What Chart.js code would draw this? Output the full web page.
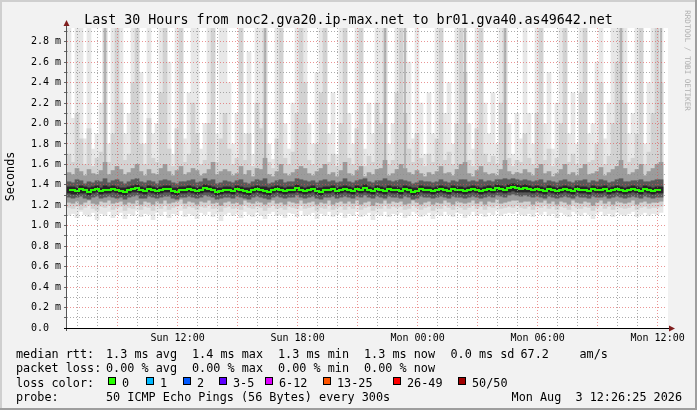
<!DOCTYPE html>
<html>
<head>
<meta charset="utf-8">
<title>Smokeping noc2.gva20 - br01.gva40</title>
<script src="https://cdn.jsdelivr.net/npm/chart.js"></script>
<style>
  html, body { margin: 0; padding: 0; background: #f2f2f2; }
  #wrap { width: 697px; height: 410px; }
</style>
</head>
<body>
<div id="wrap"><canvas id="smoke-chart" width="697" height="410"></canvas></div>
<script>
// time axis, hours since Sun 00:00 (30 hours ending Mon 12:26)
var axisStart = 6.47;
var axisEnd = 36.47;
var firstSlot = 6.57;   // centre of first 12 minute slot
var slotHours = 0.2;

// median rtt per slot (ms)
var rttMedian = [
  1.35,1.35,1.34,1.36,1.35,1.33,1.35,1.36,1.34,1.35,
  1.35,1.36,1.35,1.34,1.33,1.35,1.36,1.37,1.35,1.34,
  1.36,1.35,1.34,1.35,1.36,1.36,1.34,1.33,1.35,1.35,
  1.36,1.35,1.34,1.35,1.37,1.36,1.35,1.33,1.34,1.35,
  1.35,1.34,1.36,1.35,1.34,1.33,1.35,1.36,1.35,1.34,
  1.33,1.35,1.36,1.35,1.34,1.35,1.35,1.37,1.35,1.34,
  1.35,1.36,1.34,1.33,1.35,1.35,1.36,1.34,1.35,1.36,
  1.35,1.34,1.36,1.35,1.37,1.35,1.34,1.36,1.35,1.34,
  1.36,1.35,1.35,1.34,1.36,1.35,1.33,1.34,1.36,1.35,
  1.35,1.34,1.35,1.36,1.35,1.34,1.36,1.35,1.35,1.34,
  1.35,1.36,1.35,1.34,1.35,1.36,1.35,1.37,1.36,1.35,
  1.37,1.38,1.37,1.36,1.37,1.36,1.35,1.36,1.35,1.34,
  1.36,1.35,1.34,1.35,1.36,1.35,1.34,1.36,1.35,1.35,
  1.34,1.36,1.35,1.35,1.36,1.34,1.35,1.36,1.35,1.34,
  1.35,1.36,1.35,1.34,1.36,1.35,1.34,1.35,1.35
];

// smoke, outermost band (min / max of the 50 pings)
var smoke1Lo = [
  1.10,1.12,1.08,1.14,1.11,1.09,1.13,1.06,1.12,1.10,
  1.14,1.08,1.11,1.13,1.07,1.12,1.10,1.15,1.09,1.12,
  1.11,1.06,1.13,1.10,1.14,1.08,1.12,1.11,1.15,1.09,
  1.12,1.10,1.07,1.13,1.11,1.14,1.09,1.12,1.05,1.11,
  1.13,1.10,1.12,1.08,1.14,1.11,1.09,1.13,1.10,1.07,
  1.12,1.14,1.10,1.11,1.08,1.13,1.12,1.09,1.15,1.10,
  1.11,1.13,1.07,1.12,1.10,1.14,1.09,1.11,1.13,1.08,
  1.12,1.10,1.14,1.09,1.11,1.13,1.06,1.12,1.10,1.14,
  1.09,1.12,1.11,1.13,1.08,1.10,1.14,1.12,1.09,1.11,
  1.13,1.07,1.12,1.10,1.14,1.11,1.09,1.13,1.12,1.08,
  1.11,1.14,1.10,1.12,1.09,1.13,1.11,1.15,1.10,1.12,
  1.13,1.12,1.14,1.11,1.10,1.12,1.09,1.13,1.11,1.14,
  1.10,1.12,1.08,1.13,1.11,1.09,1.14,1.12,1.10,1.13,
  1.11,1.07,1.12,1.14,1.10,1.12,1.09,1.13,1.11,1.10,
  1.12,1.14,1.09,1.11,1.13,1.10,1.12,1.11,1.13
];
var smoke1Hi = [
  3.0,2.05,3.0,3.0,1.85,3.0,1.75,1.9,2.2,3.0,
  1.8,3.0,3.0,3.0,1.9,2.1,3.0,3.0,2.5,1.8,
  3.0,1.9,2.0,3.0,3.0,2.6,1.7,3.0,3.0,1.85,
  2.3,3.0,3.0,1.75,2.0,3.0,3.0,1.9,3.0,3.0,
  2.4,1.8,2.1,3.0,1.9,2.7,1.7,3.0,3.0,3.0,
  1.8,1.65,3.0,3.0,2.0,1.75,2.2,3.0,3.0,3.0,
  2.0,1.8,2.5,3.0,3.0,1.9,2.3,1.7,3.0,3.0,
  2.1,1.8,3.0,3.0,1.75,2.2,1.9,3.0,3.0,3.0,
  1.8,2.0,3.0,3.0,3.0,2.6,1.85,3.0,2.2,1.7,
  2.3,1.9,3.0,3.0,2.1,2.4,1.8,3.0,3.0,3.0,
  2.0,1.75,3.0,3.0,2.2,1.9,2.3,1.8,3.0,3.0,
  2.0,1.7,2.1,1.85,3.0,2.1,1.8,3.0,3.0,2.0,
  2.5,1.75,2.2,3.0,3.0,1.9,2.3,1.8,3.0,3.0,
  1.9,2.0,2.6,3.0,1.85,2.2,3.0,3.0,3.0,3.0,
  1.9,2.1,3.0,3.0,1.8,2.4,3.0,3.0,3.0
];

// second band
var smoke2Lo = [
  1.18,1.17,1.19,1.16,1.18,1.20,1.17,1.15,1.19,1.18,
  1.20,1.16,1.18,1.19,1.15,1.18,1.17,1.20,1.16,1.19,
  1.18,1.15,1.19,1.17,1.20,1.16,1.18,1.19,1.21,1.17,
  1.19,1.18,1.16,1.19,1.18,1.20,1.17,1.18,1.14,1.18,
  1.19,1.17,1.18,1.16,1.20,1.18,1.17,1.19,1.18,1.15,
  1.18,1.20,1.17,1.18,1.16,1.19,1.18,1.17,1.20,1.17,
  1.18,1.19,1.15,1.18,1.17,1.20,1.16,1.18,1.19,1.16,
  1.19,1.17,1.20,1.16,1.18,1.19,1.15,1.18,1.17,1.20,
  1.17,1.19,1.18,1.19,1.16,1.17,1.20,1.18,1.16,1.18,
  1.19,1.15,1.18,1.17,1.20,1.18,1.16,1.19,1.18,1.16,
  1.18,1.20,1.17,1.19,1.16,1.19,1.18,1.21,1.17,1.18,
  1.19,1.18,1.20,1.18,1.17,1.19,1.16,1.19,1.18,1.20,
  1.17,1.19,1.16,1.19,1.18,1.16,1.20,1.18,1.17,1.19,
  1.18,1.15,1.18,1.20,1.17,1.19,1.16,1.19,1.18,1.17,
  1.18,1.20,1.16,1.18,1.19,1.17,1.18,1.18,1.19
];
var smoke2Hi = [
  1.70,1.62,2.10,1.85,1.60,1.95,1.58,1.66,1.72,3.00,
  1.62,1.90,3.00,2.20,1.64,1.70,2.40,3.00,1.80,1.60,
  2.05,1.66,1.62,2.30,3.00,1.75,1.58,1.95,3.00,1.62,
  1.70,2.20,1.90,1.60,1.64,2.00,3.00,1.62,1.85,2.10,
  1.75,1.60,1.66,3.00,1.64,1.90,1.58,2.20,1.95,3.00,
  1.62,1.56,1.85,3.00,1.66,1.60,1.72,2.10,3.00,2.40,
  1.64,1.60,1.80,2.30,3.00,1.62,1.70,1.58,2.00,3.00,
  1.66,1.60,1.95,3.00,1.58,1.68,1.62,2.20,2.00,3.00,
  1.60,1.64,2.30,3.00,2.10,1.75,1.62,1.90,1.66,1.58,
  1.70,1.62,1.85,3.00,1.64,1.72,1.60,2.00,3.00,2.50,
  1.64,1.58,1.95,3.00,1.70,1.62,1.68,1.60,2.20,3.00,
  1.66,1.58,1.64,1.62,1.90,1.66,1.60,2.10,3.00,1.64,
  1.75,1.58,1.66,2.00,3.00,1.62,1.70,1.60,2.30,3.00,
  1.62,1.64,1.80,2.40,1.60,1.68,2.00,2.60,3.00,2.20,
  1.62,1.66,1.90,3.00,1.60,1.72,2.10,3.00,2.40
];

// third band
var smoke3Lo = [
  1.23,1.22,1.24,1.21,1.23,1.25,1.22,1.21,1.24,1.23,
  1.25,1.22,1.23,1.24,1.21,1.23,1.22,1.25,1.21,1.24,
  1.23,1.21,1.24,1.22,1.25,1.22,1.23,1.24,1.26,1.22,
  1.24,1.23,1.21,1.24,1.23,1.25,1.22,1.23,1.20,1.23,
  1.24,1.22,1.23,1.21,1.25,1.23,1.22,1.24,1.23,1.21,
  1.23,1.25,1.22,1.23,1.21,1.24,1.23,1.22,1.25,1.22,
  1.23,1.24,1.21,1.23,1.22,1.25,1.21,1.23,1.24,1.22,
  1.24,1.22,1.25,1.21,1.23,1.24,1.20,1.23,1.22,1.25,
  1.22,1.24,1.23,1.24,1.21,1.22,1.25,1.23,1.21,1.23,
  1.24,1.21,1.23,1.22,1.25,1.23,1.21,1.24,1.23,1.22,
  1.23,1.25,1.22,1.24,1.21,1.24,1.23,1.26,1.22,1.23,
  1.24,1.25,1.25,1.23,1.24,1.24,1.21,1.24,1.23,1.25,
  1.22,1.24,1.21,1.24,1.23,1.21,1.25,1.23,1.22,1.24,
  1.23,1.20,1.23,1.25,1.22,1.24,1.21,1.24,1.23,1.22,
  1.23,1.25,1.21,1.23,1.24,1.22,1.23,1.23,1.24
];
var smoke3Hi = [
  1.52,1.50,1.56,1.53,1.49,1.55,1.51,1.50,1.54,1.62,
  1.50,1.54,1.58,1.55,1.50,1.52,1.56,1.60,1.53,1.49,
  1.55,1.51,1.50,1.56,1.60,1.53,1.49,1.54,1.58,1.50,
  1.52,1.56,1.54,1.49,1.51,1.55,1.62,1.50,1.53,1.55,
  1.53,1.49,1.51,1.58,1.50,1.54,1.48,1.56,1.55,1.66,
  1.50,1.48,1.53,1.60,1.51,1.49,1.52,1.55,1.58,1.56,
  1.51,1.49,1.53,1.56,1.60,1.50,1.52,1.48,1.54,1.62,
  1.51,1.49,1.54,1.58,1.48,1.52,1.50,1.55,1.56,1.64,
  1.49,1.51,1.55,1.60,1.56,1.52,1.50,1.54,1.51,1.48,
  1.52,1.50,1.53,1.58,1.51,1.52,1.49,1.55,1.60,1.62,
  1.51,1.48,1.54,1.58,1.52,1.50,1.51,1.49,1.55,1.64,
  1.53,1.50,1.52,1.51,1.55,1.52,1.49,1.56,1.60,1.51,
  1.53,1.48,1.51,1.55,1.60,1.50,1.52,1.49,1.56,1.60,
  1.50,1.51,1.53,1.57,1.49,1.52,1.55,1.58,1.64,1.56,
  1.50,1.52,1.55,1.60,1.49,1.53,1.56,1.60,1.62
];

// fourth band
var smoke4Lo = [
  1.28,1.27,1.28,1.29,1.27,1.26,1.28,1.29,1.27,1.28,
  1.29,1.28,1.27,1.28,1.26,1.28,1.29,1.30,1.27,1.27,
  1.29,1.28,1.27,1.28,1.29,1.29,1.27,1.26,1.28,1.28,
  1.29,1.28,1.27,1.28,1.30,1.29,1.28,1.26,1.27,1.28,
  1.28,1.27,1.29,1.28,1.27,1.26,1.28,1.29,1.28,1.27,
  1.26,1.28,1.29,1.28,1.27,1.28,1.28,1.30,1.28,1.27,
  1.28,1.29,1.27,1.26,1.28,1.28,1.29,1.27,1.28,1.29,
  1.28,1.27,1.29,1.28,1.30,1.28,1.27,1.29,1.28,1.27,
  1.29,1.28,1.28,1.27,1.29,1.28,1.26,1.27,1.29,1.28,
  1.28,1.27,1.28,1.29,1.28,1.27,1.29,1.28,1.28,1.27,
  1.28,1.29,1.28,1.27,1.28,1.29,1.28,1.30,1.29,1.28,
  1.30,1.31,1.30,1.29,1.30,1.29,1.28,1.29,1.28,1.27,
  1.29,1.28,1.27,1.28,1.29,1.28,1.27,1.29,1.28,1.28,
  1.27,1.29,1.28,1.28,1.29,1.27,1.28,1.29,1.28,1.27,
  1.28,1.29,1.28,1.27,1.29,1.28,1.27,1.28,1.28
];
var smoke4Hi = [
  1.43,1.42,1.45,1.44,1.41,1.43,1.42,1.44,1.43,1.46,
  1.42,1.44,1.45,1.43,1.41,1.43,1.45,1.46,1.43,1.42,
  1.44,1.43,1.41,1.44,1.45,1.44,1.42,1.41,1.43,1.43,
  1.44,1.45,1.42,1.43,1.46,1.44,1.45,1.41,1.42,1.44,
  1.43,1.42,1.44,1.45,1.42,1.41,1.43,1.45,1.44,1.46,
  1.41,1.42,1.44,1.45,1.42,1.43,1.43,1.46,1.45,1.44,
  1.43,1.44,1.42,1.44,1.45,1.43,1.44,1.42,1.43,1.46,
  1.43,1.42,1.44,1.45,1.46,1.43,1.42,1.44,1.44,1.46,
  1.44,1.43,1.44,1.45,1.44,1.43,1.41,1.42,1.44,1.43,
  1.43,1.42,1.43,1.45,1.43,1.42,1.44,1.43,1.45,1.45,
  1.43,1.44,1.43,1.45,1.43,1.44,1.43,1.45,1.45,1.46,
  1.45,1.46,1.45,1.44,1.45,1.44,1.43,1.44,1.45,1.42,
  1.44,1.43,1.42,1.44,1.45,1.43,1.42,1.44,1.44,1.45,
  1.42,1.44,1.43,1.45,1.44,1.42,1.43,1.45,1.46,1.43,
  1.43,1.44,1.44,1.45,1.43,1.43,1.44,1.45,1.45
];

// innermost band
var smoke5Lo = [
  1.32,1.31,1.31,1.32,1.32,1.30,1.32,1.33,1.31,1.32,
  1.32,1.33,1.32,1.31,1.30,1.32,1.33,1.33,1.32,1.31,
  1.33,1.32,1.31,1.32,1.33,1.33,1.31,1.30,1.32,1.32,
  1.33,1.32,1.31,1.32,1.33,1.33,1.32,1.30,1.31,1.32,
  1.32,1.31,1.33,1.32,1.31,1.30,1.32,1.33,1.32,1.31,
  1.30,1.32,1.33,1.32,1.31,1.32,1.32,1.33,1.32,1.31,
  1.32,1.33,1.31,1.30,1.32,1.32,1.33,1.31,1.32,1.33,
  1.32,1.31,1.33,1.32,1.33,1.32,1.31,1.33,1.32,1.31,
  1.33,1.32,1.32,1.31,1.33,1.32,1.30,1.31,1.33,1.32,
  1.32,1.31,1.32,1.33,1.32,1.31,1.33,1.32,1.32,1.31,
  1.32,1.33,1.32,1.31,1.32,1.33,1.32,1.33,1.33,1.32,
  1.33,1.34,1.33,1.33,1.33,1.33,1.32,1.33,1.32,1.31,
  1.33,1.32,1.31,1.32,1.33,1.32,1.31,1.33,1.32,1.32,
  1.31,1.33,1.32,1.32,1.33,1.31,1.32,1.33,1.32,1.31,
  1.32,1.33,1.32,1.31,1.33,1.32,1.31,1.32,1.32
];
var smoke5Hi = [
  1.38,1.38,1.37,1.39,1.38,1.37,1.38,1.39,1.37,1.39,
  1.38,1.39,1.38,1.37,1.37,1.38,1.39,1.40,1.38,1.37,
  1.39,1.38,1.37,1.38,1.39,1.39,1.37,1.37,1.38,1.38,
  1.39,1.38,1.37,1.38,1.40,1.39,1.38,1.37,1.37,1.38,
  1.38,1.37,1.39,1.38,1.37,1.37,1.38,1.39,1.38,1.38,
  1.37,1.38,1.39,1.38,1.37,1.38,1.38,1.40,1.38,1.37,
  1.38,1.39,1.37,1.37,1.38,1.38,1.39,1.37,1.38,1.39,
  1.38,1.37,1.39,1.38,1.40,1.38,1.37,1.39,1.38,1.37,
  1.39,1.38,1.38,1.37,1.39,1.38,1.37,1.37,1.39,1.38,
  1.38,1.37,1.38,1.39,1.38,1.37,1.39,1.38,1.38,1.37,
  1.38,1.39,1.38,1.37,1.38,1.39,1.38,1.40,1.39,1.38,
  1.40,1.41,1.40,1.39,1.40,1.39,1.38,1.39,1.38,1.37,
  1.39,1.38,1.37,1.38,1.39,1.38,1.37,1.39,1.38,1.38,
  1.37,1.39,1.38,1.38,1.39,1.37,1.38,1.39,1.38,1.37,
  1.38,1.39,1.38,1.37,1.39,1.38,1.37,1.38,1.38
];

// thin darker spikes going off the top
var darkSpikeCols = [9, 49, 79, 84, 99, 109, 138, 148];
var darkSpikeTop  = [3.0, 3.0, 3.0, 3.0, 3.0, 3.0, 3.0, 3.0];

// ticks
var yTickValues = [0, 0.1, 0.2, 0.3, 0.4, 0.5, 0.6, 0.7, 0.8, 0.9, 1.0, 1.1, 1.2, 1.3, 1.4,
                   1.5, 1.6, 1.7, 1.8, 1.9, 2.0, 2.1, 2.2, 2.3, 2.4, 2.5, 2.6, 2.7, 2.8, 2.9];
var yTickLabels = ['0.0  ', '', '0.2 m', '', '0.4 m', '', '0.6 m', '', '0.8 m', '', '1.0 m', '',
                   '1.2 m', '', '1.4 m', '', '1.6 m', '', '1.8 m', '', '2.0 m', '', '2.2 m', '',
                   '2.4 m', '', '2.6 m', '', '2.8 m', ''];
var xHourTicks = [7, 8, 9, 10, 11, 12, 13, 14, 15, 16, 17, 18, 19, 20, 21, 22, 23, 24,
                  25, 26, 27, 28, 29, 30, 31, 32, 33, 34, 35, 36];
var xLabelHours = [12, 18, 24, 30, 36];
var xLabelTexts = ['Sun 12:00', 'Sun 18:00', 'Mon 00:00', 'Mon 06:00', 'Mon 12:00'];

// legend
var lossLabels = ['0', '1', '2', '3-5', '6-12', '13-25', '26-49', '50/50'];
var lossColors = ['#26ff00', '#00b8ff', '#0059ff', '#5e00ff', '#dd00ff', '#ff5500', '#ff0000', '#a10000'];

var MONO = '"DejaVu Sans Mono", "Liberation Mono", monospace';
var MAJOR_GRID = 'rgba(222, 79, 79, 0.6)';
var MINOR_GRID = 'rgba(143, 143, 143, 0.75)';

function colTime(i) {
    return firstSlot + i * slotHours;
}

function band(lo, hi) {
    return lo.map(function (v, i) {
        return { x: colTime(i), y: [v, hi[i]] };
    });
}

function spikes() {
    return darkSpikeCols.map(function (c, k) {
        return { x: colTime(c), y: [smoke3Hi[c], darkSpikeTop[k]] };
    });
}

// frame, title, legend and axes drawn round the plot
var rrdDecor = {
    id: 'rrdDecor',
    beforeDraw: function (chart) {
        var ctx = chart.ctx, a = chart.chartArea;
        var W = chart.width, H = chart.height;
        ctx.save();
        ctx.fillStyle = '#f2f2f2';
        ctx.fillRect(0, 0, W, H);
        ctx.fillStyle = '#cfcfcf';
        ctx.fillRect(0, 0, W, 2);
        ctx.fillRect(0, 0, 2, H);
        ctx.fillStyle = '#9e9e9e';
        ctx.fillRect(0, H - 2, W, 2);
        ctx.fillRect(W - 2, 0, 2, H);
        ctx.fillStyle = '#ffffff';
        ctx.fillRect(a.left, a.top, a.right - a.left + 1, a.bottom - a.top);
        ctx.restore();
    },
    afterDraw: function (chart) {
        var ctx = chart.ctx, a = chart.chartArea;
        ctx.save();

        // axes
        ctx.lineWidth = 1;
        ctx.strokeStyle = '#555555';
        ctx.beginPath();
        ctx.moveTo(a.left - 0.5, a.bottom + 3);
        ctx.lineTo(a.left - 0.5, a.top - 4);
        ctx.stroke();
        ctx.strokeStyle = '#000000';
        ctx.beginPath();
        ctx.moveTo(a.left - 3, a.bottom + 0.5);
        ctx.lineTo(a.right + 3, a.bottom + 0.5);
        ctx.stroke();

        // arrows
        ctx.fillStyle = '#801f1f';
        ctx.beginPath();
        ctx.moveTo(a.left - 3.5, a.top - 2);
        ctx.lineTo(a.left + 2.5, a.top - 2);
        ctx.lineTo(a.left - 0.5, a.top - 8);
        ctx.closePath();
        ctx.fill();
        ctx.beginPath();
        ctx.moveTo(a.right + 2, a.bottom - 2.5);
        ctx.lineTo(a.right + 2, a.bottom + 3.5);
        ctx.lineTo(a.right + 8, a.bottom + 0.5);
        ctx.closePath();
        ctx.fill();

        // title
        ctx.fillStyle = '#000000';
        ctx.font = '13.3px ' + MONO;
        ctx.textAlign = 'center';
        ctx.textBaseline = 'alphabetic';
        ctx.fillText('Last 30 Hours from noc2.gva20.ip-max.net to br01.gva40.as49642.net', 348.5, 24);

        // vertical label
        ctx.font = '11.8px ' + MONO;
        ctx.save();
        ctx.translate(10.5, 176.5);
        ctx.rotate(-Math.PI / 2);
        ctx.textBaseline = 'middle';
        ctx.fillText('Seconds', 0, 0);
        ctx.restore();

        // watermark
        ctx.save();
        ctx.fillStyle = '#b0b0b0';
        ctx.font = '7.6px ' + MONO;
        ctx.translate(687, 60.5);
        ctx.rotate(Math.PI / 2);
        ctx.textBaseline = 'middle';
        ctx.fillText('RRDTOOL / TOBI OETIKER', 0, 0);
        ctx.restore();

        // legend
        ctx.textAlign = 'left';
        ctx.textBaseline = 'alphabetic';
        ctx.font = '11.8px ' + MONO;
        var line1 = [[16, 'median rtt:'], [106, '1.3 ms avg'], [192, '1.4 ms max'], [278, '1.3 ms min'],
                     [364, '1.3 ms now'], [450.5, '0.0 ms sd'], [520.5, '67.2'], [579.5, 'am/s']];
        var line2 = [[16, 'packet loss:'], [106, '0.00 % avg'], [192, '0.00 % max'],
                     [278, '0.00 % min'], [364, '0.00 % now']];
        line1.forEach(function (s) { ctx.fillText(s[1], s[0], 357.5); });
        line2.forEach(function (s) { ctx.fillText(s[1], s[0], 372); });

        ctx.fillText('loss color:', 16, 386.5);
        var swatchX = [108, 146, 183, 219, 265, 323, 393, 458];
        lossLabels.forEach(function (lab, k) {
            ctx.fillStyle = lossColors[k];
            ctx.fillRect(swatchX[k], 377, 8, 8);
            ctx.strokeStyle = '#000000';
            ctx.strokeRect(swatchX[k] + 0.5, 377.5, 7, 7);
            ctx.fillStyle = '#000000';
            ctx.fillText(lab, swatchX[k] + 14, 386.5);
        });

        ctx.fillText('probe:', 16, 401);
        ctx.fillText('50 ICMP Echo Pings (56 Bytes) every 300s', 106, 401);
        ctx.textAlign = 'right';
        ctx.fillText('Mon Aug  3 12:26:25 2026', 682, 401);

        ctx.restore();
    }
};

function getSmokeChart() {
    var ctx = document.getElementById('smoke-chart');
    var chart = new Chart(ctx, {
        type: 'bar',
        data: {
            datasets: [{
                type: 'line',
                label: 'median rtt',
                data: rttMedian.map(function (v, i) { return { x: colTime(i), y: v }; }),
                borderColor: lossColors[0],
                borderWidth: 2,
                pointRadius: 0,
                stepped: 'middle',
                fill: false
            }, {
                label: 'smoke 5',
                data: band(smoke5Lo, smoke5Hi),
                backgroundColor: '#262626'
            }, {
                label: 'smoke 4',
                data: band(smoke4Lo, smoke4Hi),
                backgroundColor: '#5a5a5a'
            }, {
                label: 'spikes',
                data: spikes(),
                backgroundColor: '#a4a4a4',
                barPercentage: 0.35
            }, {
                label: 'smoke 3',
                data: band(smoke3Lo, smoke3Hi),
                backgroundColor: '#9c9c9c'
            }, {
                label: 'smoke 2',
                data: band(smoke2Lo, smoke2Hi),
                backgroundColor: '#d2d2d2'
            }, {
                label: 'smoke 1',
                data: band(smoke1Lo, smoke1Hi),
                backgroundColor: '#e7e7e7'
            }]
        },
        options: {
            responsive: false,
            animation: false,
            events: [],
            layout: { padding: { left: 0, top: 28, right: 30, bottom: 64 } },
            datasets: {
                bar: { grouped: false, categoryPercentage: 1, barPercentage: 1, borderWidth: 0 }
            },
            plugins: {
                legend: { display: false },
                tooltip: { enabled: false },
                title: { display: false }
            },
            scales: {
                x: {
                    type: 'linear',
                    min: axisStart,
                    max: axisEnd,
                    offset: false,
                    afterBuildTicks: function (scale) {
                        scale.ticks = xHourTicks.map(function (v) { return { value: v }; });
                    },
                    afterFit: function (scale) { scale.height = 18; },
                    grid: {
                        z: 1,
                        offset: false,
                        drawTicks: false,
                        lineWidth: 1,
                        borderDash: [1, 2],
                        color: function (c) {
                            return c.tick && c.tick.value % 3 === 0 ? MAJOR_GRID : MINOR_GRID;
                        }
                    },
                    border: { display: false, dash: [1, 2] },
                    ticks: {
                        autoSkip: false,
                        maxRotation: 0,
                        padding: 4,
                        color: '#000000',
                        font: { family: MONO, size: 10 },
                        callback: function (value) {
                            var k = xLabelHours.indexOf(value);
                            return k < 0 ? '' : xLabelTexts[k];
                        }
                    }
                },
                y: {
                    type: 'linear',
                    min: 0,
                    max: 2.934,
                    afterBuildTicks: function (scale) {
                        scale.ticks = yTickValues.map(function (v) { return { value: v }; });
                    },
                    afterFit: function (scale) { scale.width = 67; },
                    grid: {
                        z: 1,
                        lineWidth: 1,
                        tickLength: 3,
                        tickColor: '#666666',
                        borderDash: [1, 2],
                        color: function (c) {
                            if (!c.tick) return MINOR_GRID;
                            return Math.round(c.tick.value * 10) % 2 === 0 ? MAJOR_GRID : MINOR_GRID;
                        }
                    },
                    border: { display: false, dash: [1, 2] },
                    ticks: {
                        autoSkip: false,
                        padding: 3,
                        color: '#000000',
                        font: { family: MONO, size: 10 },
                        callback: function (value, index) {
                            return yTickLabels[index];
                        }
                    }
                }
            }
        },
        plugins: [rrdDecor]
    });
    return chart;
}

getSmokeChart();
</script>
</body>
</html>
